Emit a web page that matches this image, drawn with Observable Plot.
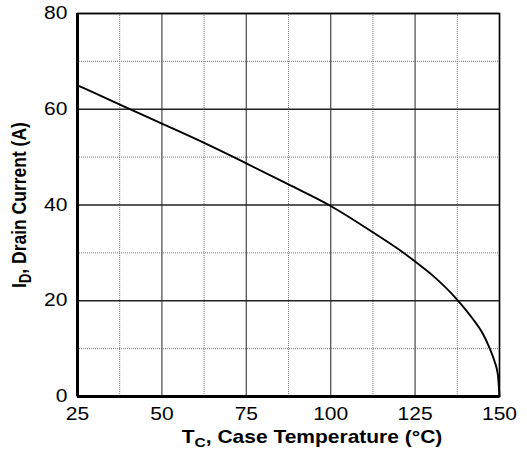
<!DOCTYPE html>
<html>
<head>
<meta charset="utf-8">
<script src="https://cdn.jsdelivr.net/npm/d3@7"></script>
<script src="https://cdn.jsdelivr.net/npm/@observablehq/plot@0.6"></script>
<style>
  html, body { margin: 0; padding: 0; background: #fff; }
  #chart svg { display: block; }
</style>
</head>
<body>
<div id="chart"></div>
<script>
// Data
const caseTemp = [25, 30, 40, 50, 60, 75, 87.5, 100, 112.5, 120, 125, 130, 137.5, 142, 145, 147, 148.5, 149.5, 150];
const drainCurrent = [65, 63.4, 60.2, 57.0, 53.8, 48.7, 44.3, 39.8, 34.3, 30.8, 28.2, 25.4, 20.2, 16.3, 13.2, 10.2, 7.4, 4.6, 0];
const xTicks = [25, 50, 75, 100, 125, 150];
const yTicks = [0, 20, 40, 60, 80];
const xMinor = [37.5, 62.5, 87.5, 112.5, 137.5];
const yMinor = [10, 30, 50, 70];

const data = caseTemp.map((t, i) => ({t, i: drainCurrent[i]}));

const W = 527, H = 455;
const font = "'Liberation Sans', Arial, Helvetica, sans-serif";
const stretch = 1.2;

const chart = Plot.plot({
  width: W,
  height: H,
  marginLeft: 77,
  marginRight: 28,
  marginTop: 13,
  marginBottom: 59,
  style: {fontFamily: font, fontSize: "17.5px", color: "#000", background: "#fff"},
  x: {domain: [25, 150]},
  y: {domain: [0, 80]},
  marks: [
    Plot.ruleX(xMinor, {stroke: "#777", strokeWidth: 1, strokeDasharray: "1,1"}),
    Plot.ruleY(yMinor, {stroke: "#777", strokeWidth: 1, strokeDasharray: "1,1"}),
    Plot.ruleX(xTicks, {stroke: "#555", strokeWidth: 1.3}),
    Plot.ruleY(yTicks, {stroke: "#222", strokeWidth: 1.3}),
    Plot.frame({stroke: "#000", strokeWidth: 1.5}),
    Plot.ruleX([25], {stroke: "#000", strokeWidth: 3}),
    Plot.ruleY([0], {stroke: "#000", strokeWidth: 3}),
    Plot.line(data, {x: "t", y: "i", stroke: "#000", strokeWidth: 1.9, curve: "monotone-x"}),
    Plot.axisX({ticks: xTicks, tickSize: 0, tickPadding: 11, label: null, fontSize: 17.5}),
    Plot.axisY({ticks: yTicks, tickSize: 0, tickPadding: 10, label: null, fontSize: 17.5})
  ]
});

document.getElementById("chart").appendChild(chart);

const svg = d3.select(chart);

// widen tick labels horizontally around their anchor, like the reference
function widen(sel, anchor) {
  sel.each(function() {
    const bb = this.getBBox();
    const ax = anchor === "middle" ? bb.x + bb.width / 2 : bb.x + bb.width;
    const t = this.getAttribute("transform") || "";
    this.setAttribute("transform", `${t} translate(${ax},0) scale(${stretch},1) translate(${-ax},0)`);
  });
}
widen(svg.selectAll('g[aria-label="x-axis tick label"] text'), "middle");
widen(svg.selectAll('g[aria-label="y-axis tick label"] text'), "end");

// X axis title with subscript
const xt = svg.append("text")
  .attr("transform", `translate(312,443) scale(${stretch},1)`)
  .attr("text-anchor", "middle")
  .attr("font-family", font)
  .attr("font-size", 17.5).attr("font-weight", "bold").attr("fill", "#000");
xt.append("tspan").text("T");
xt.append("tspan").attr("font-size", 13).attr("dy", 4).text("C");
xt.append("tspan").attr("dy", -4).text(", Case Temperature (°C)");

// Y axis title with subscript
const yt = svg.append("text")
  .attr("transform", `translate(26,205) rotate(-90) scale(1,${stretch})`)
  .attr("text-anchor", "middle")
  .attr("font-family", font)
  .attr("font-size", 17.5).attr("font-weight", "bold").attr("fill", "#000");
yt.append("tspan").text("I");
yt.append("tspan").attr("font-size", 13).attr("dy", 4).text("D");
yt.append("tspan").attr("dy", -4).text(", Drain Current (A)");
</script>
</body>
</html>
